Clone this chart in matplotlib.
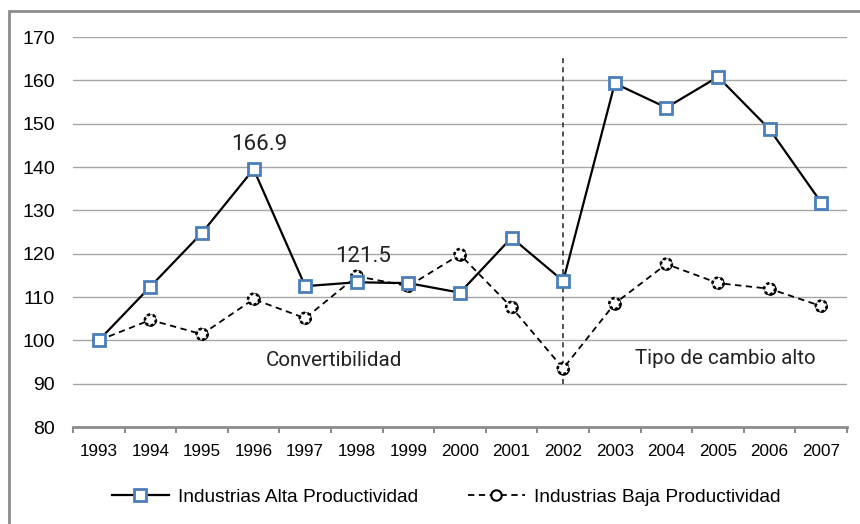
import matplotlib
matplotlib.use("Agg")
import matplotlib.pyplot as plt
from matplotlib.patches import Rectangle
from matplotlib.lines import Line2D

years = ["1993", "1994", "1995", "1996", "1997", "1998", "1999", "2000",
         "2001", "2002", "2003", "2004", "2005", "2006", "2007"]
alta = [100.0, 112.4, 124.8, 139.5, 112.5, 113.4, 113.2, 111.0,
        123.7, 113.7, 159.3, 153.7, 160.8, 148.7, 131.8]
baja = [100.0, 104.7, 101.4, 109.5, 105.1, 114.8, 112.5, 119.8,
        107.6, 93.5, 108.5, 117.6, 113.2, 111.9, 107.9]
label_alta = "Industrias Alta Productividad"
label_baja = "Industrias Baja Productividad"
annotations = [("166.9", 3, 145.3), ("121.5", 5, 119.3)]
periods = [("Convertibilidad", 4.55, 95.3), ("Tipo de cambio alto", 12.15, 95.8)]
yticks = [80, 90, 100, 110, 120, 130, 140, 150, 160, 170]

plt.rcParams['font.family'] = ['Liberation Sans', 'DejaVu Sans']
narrow = ['Roboto', 'Liberation Sans', 'DejaVu Sans']

fig = plt.figure(figsize=(8.6, 5.24), dpi=100)
ax = fig.add_axes([73/860, 1-427/524, (847-73)/860, (427-37)/524])

x = list(range(len(years)))
blue = '#4a7ebb'
ax.plot(x, alta, color='black', lw=1.6, marker='s', ms=8.5,
        mfc='white', mec=blue, mew=2.0, zorder=4, label=label_alta)
ax.plot(x, baja, color='black', lw=1.3, ls=(0, (3.5, 2.5)), marker='o', ms=7.5,
        mfc='white', mec='black', mew=1.5, zorder=3, label=label_baja)
ax.scatter(x, baja, s=62, facecolors='white', edgecolors='black',
           linewidths=1.9, linestyles=(0, (1.2, 1.0)), zorder=3.5)

ax.plot([9, 9], [90, 165.2], color='#333333', lw=1.2, ls=(0, (3, 2.5)), zorder=2)

ax.set_xlim(-0.5, 14.5)
ax.set_ylim(80, 170)
ax.set_yticks(yticks)
ax.set_xticks(x)
ax.set_xticklabels(years)
ax.set_xticks([i - 0.5 for i in range(len(years) + 1)], minor=True)
ax.tick_params(axis='x', which='major', length=0, pad=12, labelsize=12.3)
ax.tick_params(axis='x', which='minor', length=4, width=1.5, color='#8c8c8c', direction='out')
ax.tick_params(axis='y', length=0, pad=13, labelsize=14)
ax.grid(axis='y', color='#a6a6a6', lw=1.0)
ax.set_axisbelow(True)
for s in ['top', 'right', 'left']:
    ax.spines[s].set_visible(False)
ax.spines['bottom'].set_color('#8c8c8c')
ax.spines['bottom'].set_linewidth(2)

for txt, xi, yi in annotations:
    ax.text(xi + 0.12, yi, txt, ha='center', va='center', fontsize=16,
            family=narrow, color='#222222')
for txt, xi, yi in periods:
    ax.text(xi, yi, txt, ha='center', va='center', fontsize=14.8,
            family=narrow, color='#222222')

handles = [Line2D([], [], color='black', lw=1.6, marker='s', ms=8.5, mfc='white', mec=blue, mew=2.0),
           Line2D([], [], color='black', lw=1.3, ls=(0, (3.5, 2.5)), marker='o', ms=7.5,
                  mfc='white', mec='black', mew=1.5)]
fig.legend(handles, [label_alta, label_baja], loc='center', bbox_to_anchor=(446/860, 1-497/524),
           ncol=2, frameon=False, fontsize=13.8, handlelength=3.0, handletextpad=0.45,
           columnspacing=2.6)

fig.patches.append(Rectangle((9/860, -0.1), 1.2, 1 - 11/524 + 0.1, transform=fig.transFigure,
                             fill=False, edgecolor='#8c8c8c', lw=2))

fig.savefig("out.png", dpi=100)
